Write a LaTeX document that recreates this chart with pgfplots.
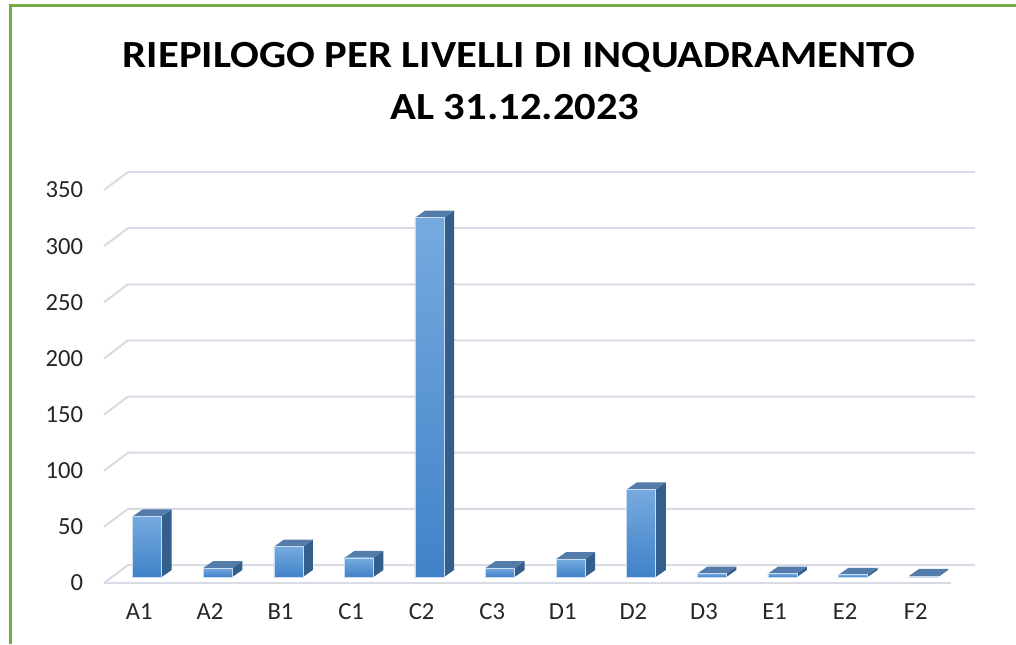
\documentclass[border=0pt]{standalone}
\usepackage{graphicx}
\usepackage{pgfplots}
\usepackage{pgfplotstable}
\pgfplotsset{compat=1.18}
\usepackage{fontspec}
\setmainfont{Carlito}
\definecolor{gridc}{RGB}{216,219,228}
\definecolor{frontTop}{RGB}{118,170,223}
\definecolor{frontBot}{RGB}{64,130,200}
\definecolor{sideC}{RGB}{52,94,140}
\definecolor{topC}{RGB}{84,124,170}
\definecolor{borderc}{RGB}{112,173,71}

\pgfplotstableread{
idx cat val
0 A1 54
1 A2 8
2 B1 27
3 C1 17
4 C2 320
5 C3 8
6 D1 16
7 D2 78
8 D3 3
9 E1 3
10 E2 2
11 F2 1
}\data

\begin{document}
\begin{tikzpicture}
\path[use as bounding box] (0pt,0pt) rectangle (508pt,322pt);
\draw[borderc, line width=1.5pt] (5.25pt,0pt) -- (5.25pt,319pt) -- (508pt,319pt);
\node[font=\bfseries\fontsize{19.2}{23}\selectfont, anchor=base, inner sep=0pt] at (259.5pt,288.3pt) {\scalebox{1.11}[1]{RIEPILOGO PER LIVELLI DI INQUADRAMENTO}};
\node[font=\bfseries\fontsize{19.2}{23}\selectfont, anchor=base, inner sep=0pt] at (257.5pt,262pt) {\scalebox{1.11}[1]{AL 31.12.2023}};
\begin{axis}[
  at={(52pt,30.5pt)}, anchor=south west, scale only axis,
  width=423.5pt, height=196.5pt,
  xmin=-0.5, xmax=11.5, ymin=0, ymax=350,
  clip=false,
  axis line style={draw=none},
  major tick length=0pt,
  ytick={0,50,...,350},
  xtick={0,...,11},
  xticklabels from table={\data}{cat},
  tick label style={font=\fontsize{12.3}{14}\selectfont, text=black!85, inner sep=0pt},
  yticklabel style={anchor=east, xshift=-10.3pt},
  xticklabel style={anchor=north, yshift=-10pt},
  /pgf/number format/assume math mode=true,
]
% gridlines: left wall diagonals and back wall
\pgfplotsinvokeforeach{0,50,...,350}{
  \addplot[gridc, line width=1pt] coordinates {(-0.5,#1) (-0.16,#1+16.03) (11.84,#1+16.03)};
}
\addplot[gridc, line width=1pt] coordinates {(-0.5,0) (11.5,0)};
% bars
\pgfplotsinvokeforeach{0,...,11}{
  \pgfplotstablegetelem{#1}{val}\of\data
  \pgfmathsetmacro\v{\pgfplotsretval}
  \pgfmathsetmacro\xl{#1-0.094}
  \pgfmathsetmacro\xr{#1+0.317}
  \pgfmathsetmacro\xls{\xl+0.142}
  \pgfmathsetmacro\xrs{\xr+0.142}
  \pgfmathsetmacro\yb{5.34}
  \pgfmathsetmacro\yt{5.34+\v}
  \pgfmathsetmacro\ybs{5.34+6.23}
  \pgfmathsetmacro\yts{\yt+6.23}
  \edef\temp{%
    \noexpand\addplot[draw=none, fill=sideC] coordinates {(\xr,\yb) (\xrs,\ybs) (\xrs,\yts) (\xr,\yt)} -- cycle;
    \noexpand\addplot[draw=none, fill=topC] coordinates {(\xl,\yt) (\xls,\yts) (\xrs,\yts) (\xr,\yt)} -- cycle;
    \noexpand\addplot[draw=frontTop!40!white, line width=0.3pt, top color=frontTop, bottom color=frontBot] coordinates {(\xl,\yb) (\xr,\yb) (\xr,\yt) (\xl,\yt)} -- cycle;
  }\temp
}
\end{axis}
\end{tikzpicture}
\end{document}
